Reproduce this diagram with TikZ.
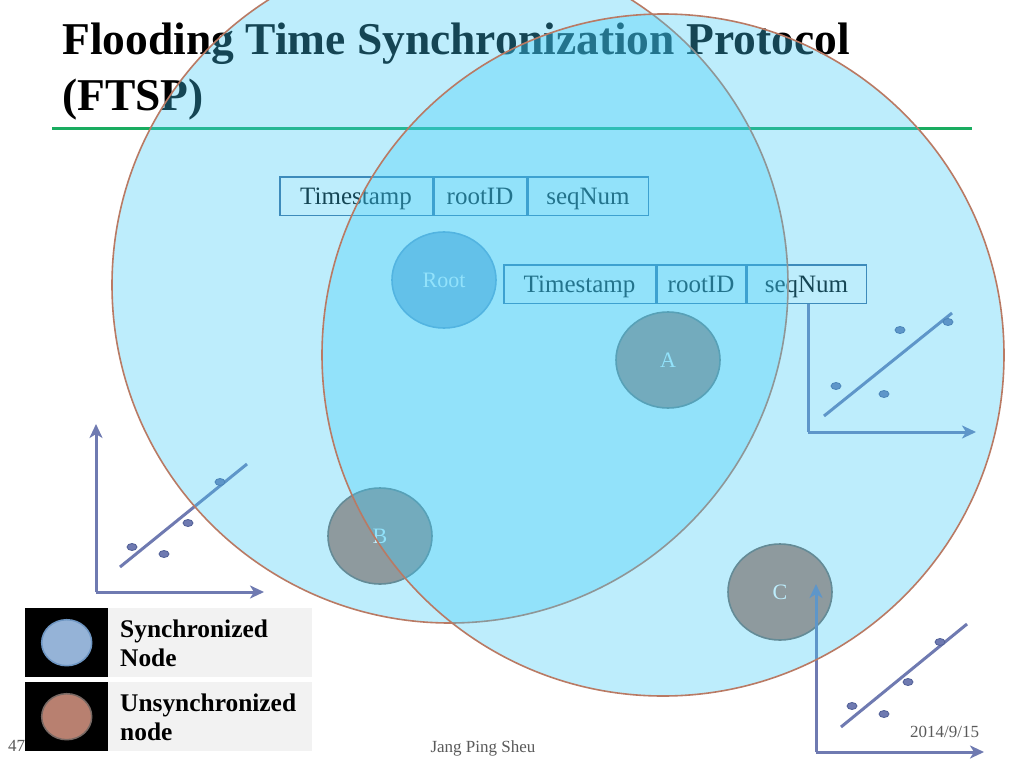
\documentclass[tikz,border=0pt]{standalone}
\usepackage{fontspec}
\setmainfont{Liberation Serif}
\usetikzlibrary{shapes.geometric,arrows.meta}
\definecolor{rangefill}{RGB}{63,205,249}
\definecolor{rangeedge}{RGB}{185,122,100}
\definecolor{syncfill}{RGB}{149,179,215}
\definecolor{syncedge}{RGB}{110,150,195}
\definecolor{unsyncfill}{RGB}{184,128,112}
\definecolor{unsyncedge}{RGB}{120,105,100}
\definecolor{graphcol}{RGB}{111,122,177}
\definecolor{graphdot}{RGB}{80,95,150}
\definecolor{boxedge}{RGB}{60,105,155}
\definecolor{titlegreen}{RGB}{26,172,96}
\definecolor{legendgray}{RGB}{242,242,242}
\definecolor{footgray}{RGB}{90,90,90}
\tikzset{
  radiorange/.style={fill=rangefill,fill opacity=0.34,draw=rangeedge,draw opacity=1,line width=1.6pt},
  netnode/.style={ellipse,minimum width=104pt,minimum height=96pt,inner sep=0pt,line width=1.6pt,
    text=white,font=\fontsize{22}{24}\selectfont},
  syncnode/.style={netnode,fill=syncfill,draw=syncedge},
  unsyncnode/.style={netnode,fill=unsyncfill,draw=unsyncedge},
  msgcell/.style={draw=boxedge,line width=1.5pt,minimum height=38.5pt,inner sep=0pt,anchor=west,
    text height=20pt,text depth=4pt,font=\fontsize{25}{27}\selectfont,text=black},
  plotaxis/.style={draw=graphcol,line width=3pt,-{Stealth[length=14pt,width=13pt,inset=4pt]}},
  fitline/.style={draw=graphcol,line width=3pt},
  plotdot/.style={ellipse,minimum width=10pt,minimum height=7pt,inner sep=0pt,fill=graphcol,draw=graphdot,line width=0.8pt},
  legendswatch/.style={fill=black,minimum width=83pt,minimum height=69pt,inner sep=0pt,anchor=north west},
  legendtext/.style={fill=legendgray,minimum width=204pt,minimum height=69pt,inner sep=0pt,anchor=north west},
  legendlabel/.style={align=left,anchor=west,font=\fontsize{25.4}{29}\selectfont\bfseries,inner sep=0pt},
  legendcircle/.style={ellipse,minimum width=50pt,minimum height=46pt,inner sep=0pt,line width=1.5pt},
  foot/.style={text=footgray,font=\fontsize{17}{19}\selectfont,inner sep=0pt}
}
\begin{document}
\begin{tikzpicture}[x=1pt,y=-1pt]
\useasboundingbox (0,0) rectangle (1024,768);
\fill[white] (0,0) rectangle (1024,768);

% title
\node[anchor=base west,inner sep=0pt,font=\fontsize{45.5}{50}\selectfont\bfseries] (title1) at (62,55) {Flooding Time Synchronization Protocol};
\node[anchor=base west,inner sep=0pt,font=\fontsize{45.5}{50}\selectfont\bfseries] (title2) at (62,110) {(FTSP)};
\coordinate (gl) at (52,128);
\coordinate (gr) at (972,128);
\draw[titlegreen,line width=3pt] (gl) -- (gr);

% network nodes
\node[syncnode] (root) at (444,280) {Root};
\node[unsyncnode] (A) at (668,360) {A};
\node[unsyncnode] (B) at (380,536) {B};
\node[unsyncnode] (C) at (780,592) {C};

% message boxes
\node[msgcell,minimum width=152.5pt] (ts1) at (279,196) {Timestamp};
\node[msgcell,minimum width=92.5pt] (rid1) at (ts1.east) {rootID};
\node[msgcell,minimum width=120.5pt] (sn1) at (rid1.east) {seqNum};
\node[msgcell,minimum width=151.5pt] (ts2) at (503,284) {Timestamp};
\node[msgcell,minimum width=88.5pt] (rid2) at (ts2.east) {rootID};
\node[msgcell,minimum width=119.5pt] (sn2) at (rid2.east) {seqNum};

% graph at A (top right)
\coordinate (g1top) at (808,304);
\coordinate (g1o) at (808,432);
\coordinate (g1x) at (976,432);
\draw[fitline] (g1top) -- (g1o);
\draw[plotaxis] (g1o) -- (g1x);
\coordinate (g1a) at (824,416);
\coordinate (g1b) at (952,313);
\draw[fitline] (g1a) -- (g1b);
\node[plotdot] (g1d1) at (836,386) {};
\node[plotdot] (g1d2) at (884,394) {};
\node[plotdot] (g1d3) at (900,330) {};
\node[plotdot] (g1d4) at (948,322) {};

% graph at B (left)
\coordinate (g2y) at (96,424);
\coordinate (g2o) at (96,592);
\coordinate (g2x) at (264,592);
\draw[plotaxis] (g2o) -- (g2y);
\draw[plotaxis] (g2o) -- (g2x);
\coordinate (g2a) at (120,567);
\coordinate (g2b) at (247,464);
\draw[fitline] (g2a) -- (g2b);
\node[plotdot] (g2d1) at (132,547) {};
\node[plotdot] (g2d2) at (164,554) {};
\node[plotdot] (g2d3) at (188,523) {};
\node[plotdot] (g2d4) at (220,482) {};

% graph at C (bottom right)
\coordinate (g3y) at (816,584);
\coordinate (g3o) at (816,752);
\coordinate (g3x) at (984,752);
\draw[plotaxis] (g3o) -- (g3y);
\draw[plotaxis] (g3o) -- (g3x);
\coordinate (g3a) at (841,727);
\coordinate (g3b) at (967,624);
\draw[fitline] (g3a) -- (g3b);
\node[plotdot] (g3d1) at (852,706) {};
\node[plotdot] (g3d2) at (884,714) {};
\node[plotdot] (g3d3) at (908,682) {};
\node[plotdot] (g3d4) at (940,642) {};

% radio ranges
\draw[radiorange] (450,285) circle[radius=338pt];
\draw[radiorange] (663,355) circle[radius=341pt];

% legend
\node[legendswatch] (sw1) at (25,608) {};
\node[legendtext] (lt1) at (108,608) {};
\node[legendcircle,fill=syncfill,draw=syncedge] (lc1) at (sw1.center) {};
\node[legendlabel] (ll1) at (120,643) {Synchronized\\Node};
\node[legendswatch] (sw2) at (25,682) {};
\node[legendtext] (lt2) at (108,682) {};
\node[legendcircle,fill=unsyncfill,draw=unsyncedge] (lc2) at (sw2.center) {};
\node[legendlabel] (ll2) at (120,717) {Unsynchronized\\node};

% footer
\node[foot,anchor=base west] (pg) at (8,751) {47};
\node[foot,anchor=base] (author) at (483,752) {Jang Ping Sheu};
\node[foot,anchor=base west] (date) at (910,737) {2014/9/15};
\end{tikzpicture}
\end{document}
